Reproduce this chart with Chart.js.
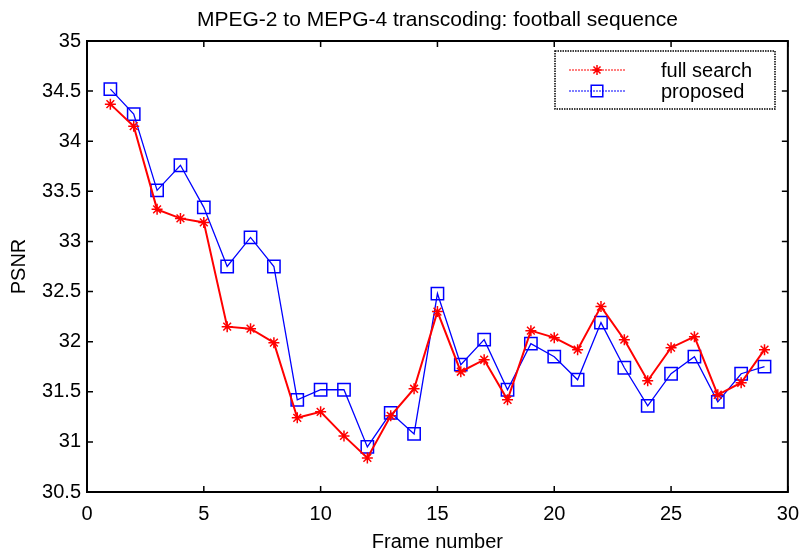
<!DOCTYPE html>
<html>
<head>
<meta charset="utf-8">
<title>MPEG-2 to MEPG-4 transcoding: football sequence</title>
<script src="https://cdn.jsdelivr.net/npm/chart.js@4/dist/chart.umd.min.js"></script>
<style>
  html, body { margin: 0; padding: 0; background: #fff; }
  #wrap { width: 809px; height: 555px; }
</style>
</head>
<body>
<div id="wrap"><canvas id="psnr" width="809" height="555"></canvas></div>
<script>
// data
const frames = [1, 2, 3, 4, 5, 6, 7, 8, 9, 10, 11, 12, 13, 14, 15,
  16, 17, 18, 19, 20, 21, 22, 23, 24, 25, 26, 27, 28, 29];
const fullSearch = [34.37, 34.15, 33.32, 33.23, 33.19, 32.15, 32.13, 31.99, 31.24, 31.30,
  31.06, 30.84, 31.26, 31.53, 32.30, 31.70, 31.82, 31.42, 32.11, 32.04,
  31.92, 32.35, 32.02, 31.61, 31.94, 32.05, 31.47, 31.59, 31.92];
const proposed = [34.52, 34.27, 33.51, 33.76, 33.34, 32.75, 33.04, 32.75, 31.42, 31.52,
  31.52, 30.95, 31.29, 31.08, 32.48, 31.77, 32.02, 31.52, 31.98, 31.85,
  31.62, 32.19, 31.74, 31.36, 31.68, 31.85, 31.40, 31.68, 31.75];
const xTicks = [0, 5, 10, 15, 20, 25, 30];
const yTicks = [30.5, 31, 31.5, 32, 32.5, 33, 33.5, 34, 34.5, 35];
const seriesNames = ['full search', 'proposed'];

const FONT = '"Liberation Sans", Arial, Helvetica, sans-serif';
Chart.defaults.color = '#000';
Chart.defaults.font.family = FONT;

const toPoints = vals => frames.map((f, i) => ({ x: f, y: vals[i] }));

// box around the axes with inward ticks on all four sides, like matlab
const axesBox = {
  id: 'axesBox',
  afterDatasetsDraw(chart) {
    const { ctx, chartArea: a, scales: { x, y } } = chart;
    ctx.save();
    ctx.strokeStyle = '#000';
    ctx.lineWidth = 2;
    ctx.strokeRect(a.left, a.top, a.right - a.left, a.bottom - a.top);
    ctx.lineWidth = 1.5;
    ctx.beginPath();
    xTicks.forEach(v => {
      const px = x.getPixelForValue(v);
      ctx.moveTo(px, a.bottom); ctx.lineTo(px, a.bottom - 6);
      ctx.moveTo(px, a.top); ctx.lineTo(px, a.top + 6);
    });
    yTicks.forEach(v => {
      const py = y.getPixelForValue(v);
      ctx.moveTo(a.left, py); ctx.lineTo(a.left + 6, py);
      ctx.moveTo(a.right, py); ctx.lineTo(a.right - 6, py);
    });
    ctx.stroke();
    ctx.restore();
  }
};

// legend box in the upper right corner
const boxLegend = {
  id: 'boxLegend',
  afterDraw(chart) {
    const { ctx } = chart;
    const bx = 555, by = 51, bw = 220, bh = 58;
    ctx.save();
    ctx.fillStyle = '#fff';
    ctx.fillRect(bx, by, bw, bh);
    ctx.strokeStyle = '#000';
    ctx.lineWidth = 1.5;
    ctx.setLineDash([1.5, 1]);
    ctx.strokeRect(bx, by, bw, bh);
    const rows = [70, 91];
    chart.data.datasets.forEach((ds, i) => {
      const ly = rows[i];
      ctx.strokeStyle = ds.borderColor;
      ctx.lineWidth = 1.2;
      ctx.setLineDash([2, 1]);
      ctx.beginPath();
      ctx.moveTo(569, ly);
      ctx.lineTo(626, ly);
      ctx.stroke();
      ctx.setLineDash([]);
      ctx.lineWidth = ds.pointBorderWidth;
      ctx.fillStyle = 'rgba(0,0,0,0)';
      Chart.helpers.drawPoint(ctx, {
        pointStyle: ds.pointStyle, radius: ds.pointRadius - 0.5,
        borderWidth: ds.pointBorderWidth, rotation: 0
      }, 597, ly);
      ctx.fillStyle = '#000';
      ctx.font = '20px ' + FONT;
      ctx.textAlign = 'left';
      ctx.textBaseline = 'middle';
      ctx.fillText(seriesNames[i], 661, ly + 1);
    });
    ctx.restore();
  }
};

new Chart(document.getElementById('psnr'), {
  type: 'line',
  data: {
    datasets: [
      {
        label: seriesNames[0],
        data: toPoints(fullSearch),
        borderColor: '#ff0000',
        backgroundColor: '#ff0000',
        borderWidth: 2,
        pointStyle: 'star',
        pointRadius: 5.5,
        pointBorderWidth: 1.5,
        pointHoverRadius: 5.5,
        tension: 0,
      },
      {
        label: seriesNames[1],
        data: toPoints(proposed),
        borderColor: '#0000ff',
        backgroundColor: 'rgba(0,0,0,0)',
        borderWidth: 1.3,
        pointStyle: 'rect',
        pointRadius: 8.7,
        pointBorderWidth: 1.5,
        pointHoverRadius: 8.7,
        tension: 0,
      },
    ],
  },
  options: {
    responsive: false,
    animation: false,
    events: [],
    layout: { padding: { left: 0, right: 16, top: 0, bottom: 0 } },
    plugins: {
      legend: { display: false },
      tooltip: { enabled: false },
      title: {
        display: true,
        fullSize: false,
        text: 'MPEG-2 to MEPG-4 transcoding: football sequence',
        font: { size: 21, weight: 'normal', family: FONT },
        padding: { top: 8, bottom: 7.8 },
      },
    },
    scales: {
      x: {
        type: 'linear',
        min: 0,
        max: 30,
        afterBuildTicks: s => { s.ticks = xTicks.map(v => ({ value: v })); },
        afterFit: s => { s.height = 63; },
        grid: { display: false, drawTicks: false },
        border: { display: false },
        ticks: { font: { size: 20 }, padding: 10, maxRotation: 0, callback: v => String(v) },
        title: {
          display: true,
          text: 'Frame number',
          font: { size: 20 },
          padding: { top: 0, bottom: 1 },
        },
      },
      y: {
        type: 'linear',
        min: 30.5,
        max: 35,
        afterBuildTicks: s => { s.ticks = yTicks.map(v => ({ value: v })); },
        afterFit: s => { s.width = 87; },
        grid: { display: false, drawTicks: false },
        border: { display: false },
        ticks: { font: { size: 20 }, padding: 6, callback: v => String(v) },
        title: {
          display: true,
          text: 'PSNR',
          font: { size: 20 },
          padding: { top: 7, bottom: 0 },
        },
      },
    },
  },
  plugins: [axesBox, boxLegend],
});
</script>
</body>
</html>
